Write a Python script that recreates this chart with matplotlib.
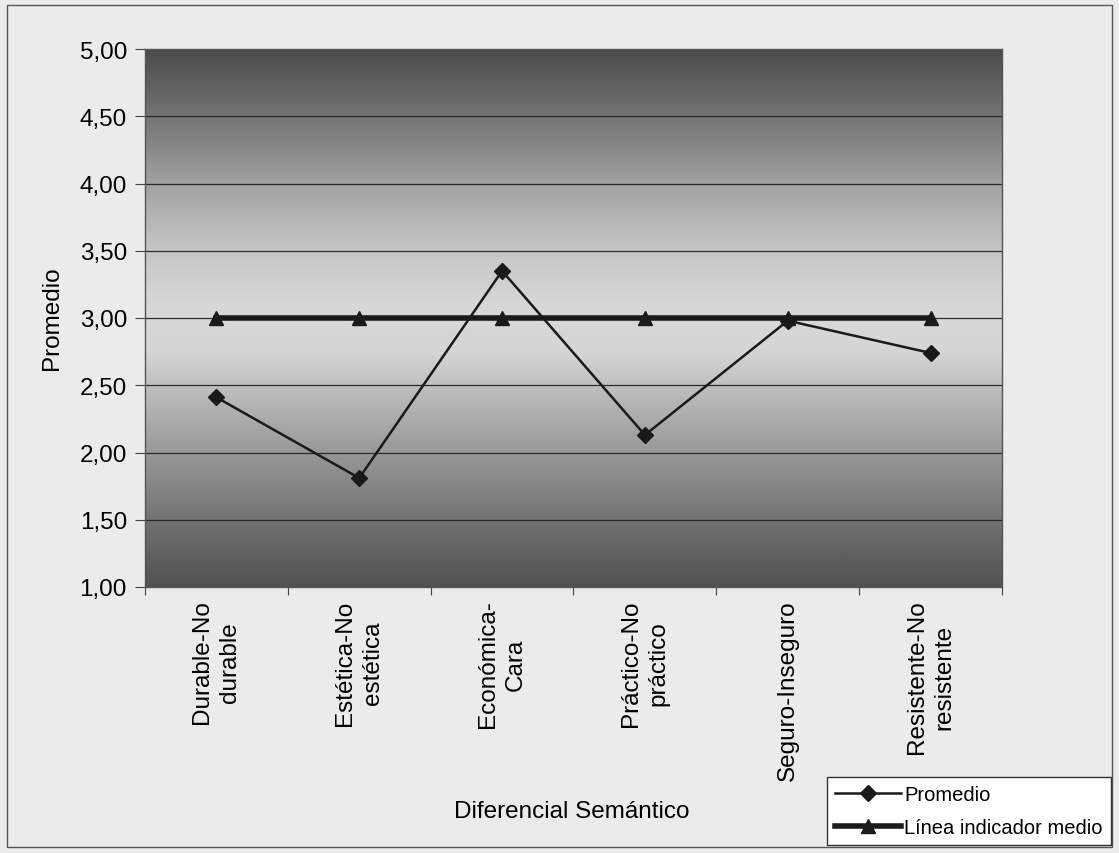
import matplotlib
matplotlib.use("Agg")
import matplotlib.pyplot as plt
import numpy as np
from matplotlib.patches import Rectangle
from matplotlib.colors import LinearSegmentedColormap

categories = ["Durable-No\ndurable", "Estética-No\nestética", "Económica-\nCara",
              "Práctico-No\npráctico", "Seguro-Inseguro", "Resistente-No\nresistente"]
promedio = [2.41, 1.81, 3.35, 2.13, 2.98, 2.74]
linea_media = [3.00, 3.00, 3.00, 3.00, 3.00, 3.00]
yticks = [1.0, 1.5, 2.0, 2.5, 3.0, 3.5, 4.0, 4.5, 5.0]

plt.rcParams['font.family'] = ['Liberation Sans', 'DejaVu Sans']
FS = 17.5

fig = plt.figure(figsize=(11.19, 8.54), dpi=100)
fig.patch.set_facecolor('#ebebeb')
fig.patches.append(Rectangle((7/1119, 6/854), (1112-7)/1119, (848-6)/854,
                             transform=fig.transFigure, fill=False,
                             edgecolor='#555555', linewidth=1.0))

ax = fig.add_axes([145/1119, 1 - 588/854, (1002-145)/1119, (588-50)/854])

# gradient background
stops = [(0.0, '#4c4c4c'), (0.125, '#747474'), (0.25, '#a2a2a2'), (0.375, '#c6c6c6'),
         (0.48, '#d8d8d8'), (0.56, '#d6d6d6'), (0.625, '#c0c0c0'), (0.75, '#989898'),
         (0.875, '#737373'), (1.0, '#515151')]
cmap = LinearSegmentedColormap.from_list('g', stops)
grad = np.linspace(0, 1, 512).reshape(-1, 1)
n = len(categories)
ax.imshow(grad, cmap=cmap, aspect='auto', extent=(-0.5, n - 0.5, 1.0, 5.0),
          origin='upper', zorder=0, interpolation='bilinear')

x = np.arange(n)
for yv in yticks[1:-1]:
    ax.axhline(yv, color='#2a2a2a', linewidth=0.9, zorder=1)

ax.plot(x, linea_media, color='#1a1a1a', linewidth=4, marker='^', markersize=10,
        label='Línea indicador medio', zorder=3)
ax.plot(x, promedio, color='#1a1a1a', linewidth=1.8, marker='D', markersize=8,
        label='Promedio', zorder=4)

ax.set_xlim(-0.5, n - 0.5)
ax.set_ylim(1.0, 5.0)
ax.set_yticks(yticks)
ax.set_yticklabels([f"{v:.2f}".replace('.', ',') for v in yticks], fontsize=FS)
ax.set_xticks(np.arange(n + 1) - 0.5)
ax.set_xticklabels([])
ax.set_xticks(x, minor=True)
ax.set_xticklabels(categories, minor=True, rotation=90, fontsize=FS,
                   ha='center', va='top', multialignment='center', linespacing=1.35)
ax.tick_params(axis='x', which='minor', length=0, pad=9)
ax.tick_params(axis='x', which='major', length=6, direction='out', color='#444444')
ax.tick_params(axis='y', length=7, direction='out', color='#444444', pad=6)
for s in ax.spines.values():
    s.set_color('#555555')
    s.set_linewidth(1.0)

fig.text(52/1119, 1 - 318/854, 'Promedio', fontsize=FS, rotation=90,
         ha='center', va='center')
fig.text(572/1119, 1 - 812/854, 'Diferencial Semántico', fontsize=FS,
         ha='center', va='center')

handles, labels = ax.get_legend_handles_labels()
leg = fig.legend(handles[::-1], labels[::-1], loc='lower right',
                 bbox_to_anchor=(1111/1119, 8/854), fontsize=14.5, frameon=True,
                 fancybox=False, edgecolor='#333333', facecolor='white',
                 framealpha=1.0, handlelength=3.3, borderpad=0.4, labelspacing=0.7,
                 handletextpad=0.15, borderaxespad=0.0)
leg.get_frame().set_linewidth(1.0)

fig.savefig('out.png', dpi=100, facecolor=fig.get_facecolor())
